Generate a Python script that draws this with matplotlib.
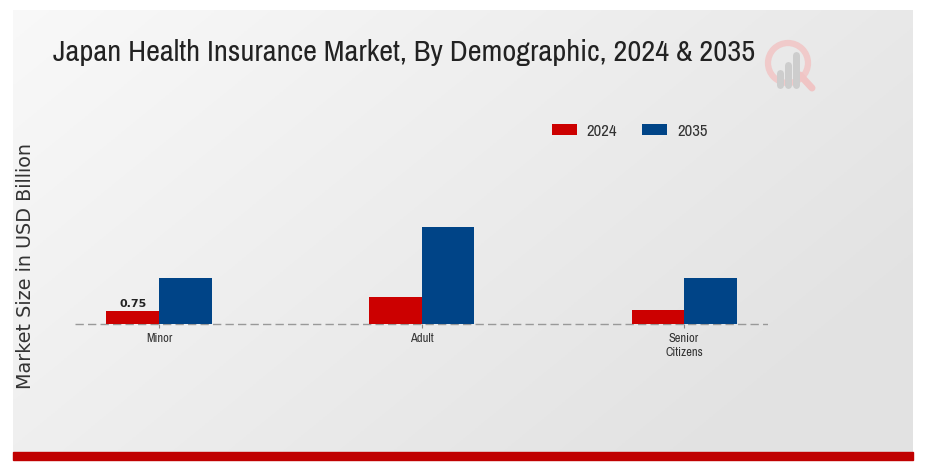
import numpy as np
import matplotlib.pyplot as plt
from matplotlib.patches import Rectangle, Circle
from matplotlib import font_manager

categories = ["Minor", "Adult", "Senior\nCitizens"]
years = ["2024", "2035"]
values_2024 = [0.75, 1.57, 0.8]
values_2035 = [2.65, 5.6, 2.65]
colors = ["#cc0000", "#004487"]

# pick whatever condensed face is installed
names = sorted({f.name for f in font_manager.fontManager.ttflist})
cands = [n for n in names if "Narrow" in n or "Condensed" in n]
narrow = [cands[0], "DejaVu Sans"] if cands else ["DejaVu Sans"]

W, H = 927, 467
fig = plt.figure(figsize=(W / 100, H / 100), dpi=100)
fig.patch.set_facecolor("white")

# gray panel with soft gradient (light top-left, darker bottom-right)
bg = fig.add_axes([13 / W, (H - 452) / H, 900 / W, 442 / H])
gx, gy = np.meshgrid(np.linspace(0, 1, 300), np.linspace(0, 1, 150))
t = np.clip(0.75 * gx + 0.45 * gy, 0, 1)
shade = 0.975 - 0.085 * t
img = np.dstack([shade, shade, shade])
bg.imshow(img, aspect="auto", extent=[0, 1, 0, 1], origin="upper")
bg.set_xlim(0, 1)
bg.set_ylim(0, 1)
bg.axis("off")

# red strip at the bottom
fig.patches.append(Rectangle((13 / W, (H - 460) / H), 900 / W, 8 / H,
                             transform=fig.transFigure, color="#c00000", zorder=5))

# faint watermark logo (magnifier with bars)
logo = fig.add_axes([760 / W, (H - 95) / H, 60 / W, 60 / H])
logo.set_xlim(0, 60)
logo.set_ylim(60, 0)
logo.axis("off")
logo.plot([40, 52], [40, 53], color="#f0c4c4", lw=5, solid_capstyle="round")
logo.add_patch(Circle((28, 28), 20, fill=False, ec="#f0caca", lw=4.5))
for bx, top in [(20, 38), (28, 30), (36, 20)]:
    logo.plot([bx, bx], [top, 50], color="#cdcdcd", lw=5, solid_capstyle="round")

# main axes
ax_l, ax_r = 75, 768
ax_t, ax_b = 150, 390
ax = fig.add_axes([ax_l / W, (H - ax_b) / H, (ax_r - ax_l) / W, (ax_b - ax_t) / H])
ax.patch.set_alpha(0)
for s in ax.spines.values():
    s.set_visible(False)
ax.spines["bottom"].set_position(("data", 0))

x = np.arange(len(categories))
w = 0.2
ax.bar(x - w / 2, values_2024, w, color=colors[0], label=years[0], zorder=3)
ax.bar(x + w / 2, values_2035, w, color=colors[1], label=years[1], zorder=3)

ax.axhline(0, color="#999999", lw=1, ls=(0, (6, 3)), zorder=2)
ax.text(x[0] - w / 2, values_2024[0] + 0.12, "0.75", ha="center", va="bottom",
        fontsize=8, fontweight="bold", color="#222222")

ax.set_xlim(-0.32, 2.32)
ax.set_ylim(-3.8, 10.05)
ax.set_yticks([])
ax.set_xticks(x)
ax.set_xticklabels(categories)
ax.tick_params(axis="x", length=3, width=0.8, color="#888888", pad=3.5)
for lbl in ax.get_xticklabels():
    lbl.set_fontfamily(narrow)
    lbl.set_fontsize(9)
    lbl.set_color("#333333")
    lbl.set_linespacing(1.35)

leg = ax.legend(loc="upper left", bbox_to_anchor=((545 - ax_l) / (ax_r - ax_l), (ax_b - 117) / (ax_b - ax_t)),
                ncol=2, frameon=False, handlelength=1.5, handleheight=0.65,
                columnspacing=1.5, handletextpad=0.6, borderaxespad=0,
                prop={"family": narrow, "size": 12})
for t in leg.get_texts():
    t.set_color("#333333")

fig.text(26 / W, 1 - 266 / H, "Market Size in USD Billion", rotation=90,
         ha="center", va="center", fontsize=13.8, color="#333333")

fig.text(53 / W, 1 - 53 / H, "Japan Health Insurance Market, By Demographic, 2024 & 2035",
         ha="left", va="center", fontsize=21.9, color="#222222", family=narrow)

fig.savefig("out.png", dpi=100)
